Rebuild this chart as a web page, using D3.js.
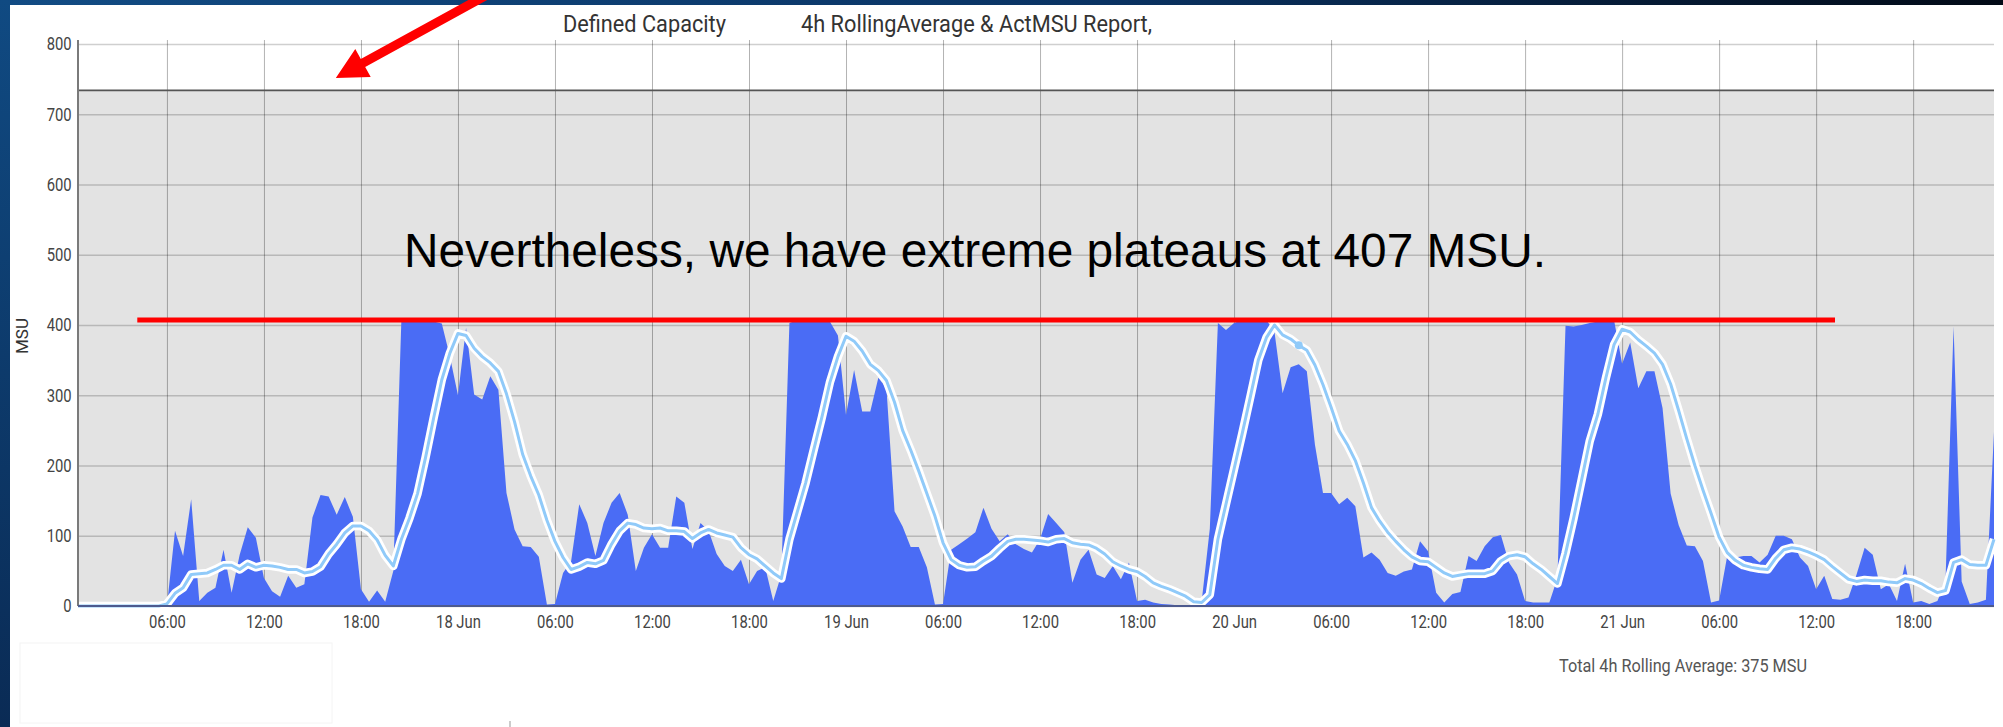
<!DOCTYPE html>
<meta charset="utf-8">
<style>

body { margin: 0; background: #fff; }
svg { display: block; }
.tick text { font-family: Roboto, sans-serif; fill: #444; }

</style>
<body>
<script src="https://d3js.org/d3.v7.min.js"></script>
<script>

// series, every 30 minutes from 17 Jun 00:30 to 21 Jun 23:00
var startTime = "2024-06-17 00:30";
var stepMinutes = 30;

var actMsu = [
  0, 0, 0, 0, 0, 0, 0, 0, 0, 0, 0,
  // 17 Jun 06:00
  0, 107, 71, 152, 7, 19, 26, 80, 19, 73, 112, 97,
  40, 21, 13, 43, 26, 31, 126, 158, 156, 130, 155, 127,
  24, 6, 22, 6, 50, 407, 407, 407, 407, 405, 402, 355,
  // 18 Jun
  300, 396, 301, 294, 327, 308, 161, 109, 85, 84, 70, 2,
  3, 47, 64, 145, 118, 71, 118, 147, 161, 130, 50, 83,
  102, 83, 83, 156, 147, 81, 118, 107, 74, 57, 50, 66,
  31, 50, 55, 7, 45, 403, 407, 407, 407, 407, 405, 385,
  // 19 Jun
  272, 336, 277, 277, 325, 310, 135, 113, 84, 84, 55, 2,
  3, 80, 88, 96, 105, 140, 110, 92, 102, 88, 81, 76,
  95, 131, 118, 105, 33, 66, 80, 45, 40, 57, 38, 62,
  7, 9, 5, 3, 2, 1, 1, 0, 7, 110, 403, 393,
  // 20 Jun
  403, 407, 407, 407, 407, 390, 303, 340, 344, 334, 230, 161,
  161, 145, 154, 142, 69, 76, 66, 47, 43, 49, 52, 92,
  78, 19, 5, 17, 20, 71, 64, 85, 98, 101, 62, 45,
  7, 5, 5, 5, 40, 399, 398, 400, 403, 405, 407, 407,
  // 21 Jun
  345, 375, 310, 334, 334, 282, 160, 115, 86, 85, 64, 5,
  8, 71, 69, 71, 71, 62, 73, 100, 100, 95, 69, 57,
  24, 43, 10, 9, 12, 45, 83, 73, 24, 31, 7, 60,
  5, 7, 3, 7, 35, 398, 35, 3, 5, 9, 248
];

var rollingAvg = [
  0, 0, 0, 0, 0, 0, 0, 0, 0, 0, 0,
  // 17 Jun 06:00
  3, 18, 26, 45, 46, 47, 52, 58, 58, 52, 60, 55,
  58, 57, 55, 52, 52, 47, 49, 56, 74, 88, 104, 114,
  114, 107, 94, 72, 57, 95, 125, 160, 212, 268, 322, 360,
  // 18 Jun
  388, 385, 367, 355, 346, 334, 302, 262, 216, 185, 158, 122,
  92, 69, 52, 56, 62, 60, 65, 88, 107, 118, 116, 111,
  110, 111, 107, 107, 106, 96, 104, 109, 104, 101, 98, 83,
  73, 67, 57, 47, 39, 95, 135, 175, 222, 268, 318, 355,
  // 19 Jun
  384, 377, 363, 344, 335, 321, 290, 250, 222, 192, 160, 128,
  90, 66, 58, 55, 56, 64, 71, 82, 92, 95, 95, 94,
  93, 91, 95, 96, 90, 88, 87, 82, 74, 63, 57, 52,
  49, 42, 33, 28, 24, 19, 14, 6, 5, 16, 95, 145,
  // 20 Jun
  195, 245, 297, 350, 382, 400, 386, 380, 371, 364, 343, 315,
  283, 249, 230, 207, 175, 140, 121, 105, 92, 80, 70, 64,
  63, 55, 47, 42, 44, 46, 46, 46, 50, 64, 71, 73,
  70, 60, 52, 42, 32, 75, 125, 180, 235, 273, 325, 372,
  // 21 Jun
  394, 390, 379, 370, 360, 344, 316, 278, 238, 200, 165, 132,
  98, 76, 65, 58, 55, 53, 52, 68, 80, 83, 81, 77,
  72, 66, 56, 47, 38, 35, 37, 36, 36, 34, 33, 39,
  37, 32, 25, 19, 22, 62, 66, 59, 58, 58, 95
];

var definedCapacity = 734;
var yTicks = [0, 100, 200, 300, 400, 500, 600, 700, 800];
var markerTime = "2024-06-20 04:00";

// slide annotation
var plateauLevel = 407;
var plateauFrom = "2024-06-17 04:10";
var plateauTo = "2024-06-21 13:10";
var noteText = "Nevertheless, we have extreme plateaus at 407 MSU.";
var titleLeft = "Defined Capacity";
var titleRight = "4h RollingAverage & ActMSU Report,";
var footerText = "Total 4h Rolling Average: 375 MSU";

var width = 2003, height = 727;
var plot = {left: 78, right: 1994, top: 40, bottom: 606};

var parse = d3.timeParse("%Y-%m-%d %H:%M");
var t0 = parse(startTime);
var times = actMsu.map(function(d, i) { return d3.timeMinute.offset(t0, stepMinutes * i); });
var data = times.map(function(t, i) { return {t: t, act: actMsu[i], avg: rollingAvg[i]}; });

var x = d3.scaleTime()
    .domain([times[0], times[times.length - 1]])
    .range([plot.left, plot.right]);
var y = d3.scaleLinear()
    .domain([0, 800])
    .range([plot.bottom, 44]);

var svg = d3.select("body").append("svg")
    .attr("width", width)
    .attr("height", height);

var defs = svg.append("defs");
var gTop = defs.append("linearGradient").attr("id", "topband");
gTop.append("stop").attr("offset", "0%").attr("stop-color", "#124c84");
gTop.append("stop").attr("offset", "55%").attr("stop-color", "#0a3363");
gTop.append("stop").attr("offset", "100%").attr("stop-color", "#020a16");
var gLeft = defs.append("linearGradient").attr("id", "leftband")
    .attr("x1", 0).attr("y1", 0).attr("x2", 0).attr("y2", 1);
gLeft.append("stop").attr("offset", "0%").attr("stop-color", "#104a82");
gLeft.append("stop").attr("offset", "100%").attr("stop-color", "#0a2b55");

svg.append("rect").attr("width", width).attr("height", height).attr("fill", "#fff");
svg.append("rect").attr("width", width).attr("height", 5).attr("fill", "url(#topband)");
svg.append("rect").attr("width", 10).attr("height", height).attr("fill", "url(#leftband)");

// faint panel below the chart
svg.append("rect")
    .attr("x", 20).attr("y", 643).attr("width", 312).attr("height", 80)
    .attr("fill", "none").attr("stroke", "#f4f4f4");
svg.append("line")
    .attr("x1", 510).attr("x2", 510).attr("y1", 721).attr("y2", 727)
    .attr("stroke", "#999");

// capacity area
svg.append("path")
    .datum(x.domain())
    .attr("fill", "#e3e3e3")
    .attr("d", d3.area()
      .x(function(d) { return x(d); })
      .y0(y(0))
      .y1(y(definedCapacity)));

// horizontal grid + y labels
var yAxis = svg.append("g")
    .attr("transform", "translate(" + plot.left + ",0)")
    .call(d3.axisLeft(y).tickValues(yTicks)
      .tickSizeInner(-(plot.right - plot.left)).tickSizeOuter(0).tickPadding(8));
yAxis.select(".domain").remove();
yAxis.selectAll("line").attr("stroke", "#000").attr("stroke-opacity", 0.19).attr("stroke-width", 1.5);
yAxis.selectAll("text")
    .attr("font-size", 18.5)
    .attr("transform", "scale(0.8,1)");

// vertical grid + x labels
var fmtDay = d3.timeFormat("%d %b"), fmtHour = d3.timeFormat("%H:%M");
var xAxis = svg.append("g")
    .attr("transform", "translate(0," + plot.bottom + ")")
    .call(d3.axisBottom(x).ticks(d3.timeHour.every(6))
      .tickFormat(function(d) { return d.getHours() === 0 ? fmtDay(d) : fmtHour(d); })
      .tickSizeInner(-(plot.bottom - plot.top)).tickSizeOuter(0).tickPadding(9));
xAxis.select(".domain").remove();
xAxis.selectAll("line").attr("stroke", "#000").attr("stroke-opacity", 0.3).attr("stroke-width", 1);
xAxis.selectAll("text")
    .attr("font-size", 18.5)
    .attr("transform", "scale(0.8,1)");

// actual MSU
svg.append("path")
    .datum(data)
    .attr("fill", "#4a6cf5")
    .attr("d", d3.area()
      .x(function(d) { return x(d.t); })
      .y0(y(0))
      .y1(function(d) { return y(d.act); }));

// capacity line
svg.append("line")
    .attr("x1", plot.left).attr("x2", plot.right)
    .attr("y1", y(definedCapacity)).attr("y2", y(definedCapacity))
    .attr("stroke", "#555").attr("stroke-width", 1.6);

// rolling average
var avgLine = d3.line()
    .x(function(d) { return x(d.t); })
    .y(function(d) { return y(d.avg); });
svg.append("path").datum(data)
    .attr("fill", "none").attr("stroke", "#fff").attr("stroke-width", 8.5)
    .attr("stroke-linejoin", "round")
    .attr("d", avgLine);
svg.append("path").datum(data)
    .attr("fill", "none").attr("stroke", "#90caf9").attr("stroke-width", 3)
    .attr("stroke-linejoin", "round")
    .attr("d", avgLine);

var mk = data.filter(function(d) { return +d.t === +parse(markerTime); })[0];
svg.append("circle")
    .attr("cx", x(mk.t)).attr("cy", y(mk.avg)).attr("r", 4)
    .attr("fill", "#90caf9");

// axis lines
svg.append("line")
    .attr("x1", plot.left).attr("x2", plot.left)
    .attr("y1", plot.top).attr("y2", plot.bottom)
    .attr("stroke", "#7a7a7a").attr("stroke-width", 2);
svg.append("line")
    .attr("x1", plot.left).attr("x2", plot.right)
    .attr("y1", plot.bottom).attr("y2", plot.bottom)
    .attr("stroke", "#4d5a8e").attr("stroke-width", 2);

// texts
function addText(str, px, py, size, len, fill, family) {
  return svg.append("text")
      .attr("x", px).attr("y", py)
      .attr("font-family", family || "Roboto, sans-serif")
      .attr("font-size", size)
      .attr("fill", fill)
      .attr("textLength", len)
      .attr("lengthAdjust", "spacingAndGlyphs")
      .text(str);
}
addText(titleLeft, 563, 32, 23, 163, "#333");
addText(titleRight, 801, 32, 23, 351, "#333");
addText(footerText, 1559, 672, 18, 248, "#555");

svg.append("text")
    .attr("transform", "translate(22,336) rotate(-90)")
    .attr("text-anchor", "middle")
    .attr("dy", "0.35em")
    .attr("font-family", "Roboto, sans-serif")
    .attr("font-size", 17)
    .attr("fill", "#333")
    .text("MSU");

// slide overlays: red plateau line, note, arrow
svg.append("line")
    .attr("x1", x(parse(plateauFrom))).attr("x2", x(parse(plateauTo)))
    .attr("y1", y(plateauLevel)).attr("y2", y(plateauLevel))
    .attr("stroke", "#ff0000").attr("stroke-width", 5);

addText(noteText, 404, 267, 47.5, 1142, "#000", "'Liberation Sans', Arial, sans-serif");

svg.append("polygon")
    .attr("points", "502.8,-18.9 360.8,59.1 355.3,49 335.8,77.9 370.7,77 365.2,67 507.2,-11")
    .attr("fill", "#ff0000");

</script>
</body>
